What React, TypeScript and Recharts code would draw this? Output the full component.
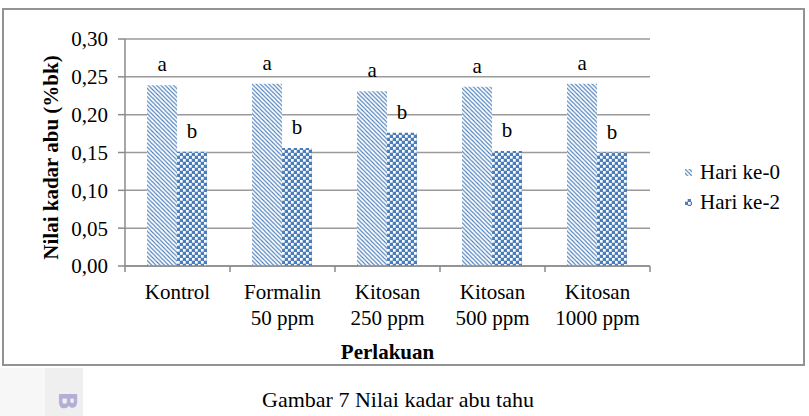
import { BarChart, Bar, XAxis, YAxis, CartesianGrid, Legend, LabelList } from "recharts";

const perlakuan = ["Kontrol", "Formalin\n50 ppm", "Kitosan\n250 ppm", "Kitosan\n500 ppm", "Kitosan\n1000 ppm"];
const hari0 = [0.239, 0.241, 0.231, 0.237, 0.241];
const hari2 = [0.151, 0.156, 0.176, 0.152, 0.15];
const notasi0 = ["a", "a", "a", "a", "a"];
const notasi2 = ["b", "b", "b", "b", "b"];
const seri = ["Hari ke-0", "Hari ke-2"];
const yTicks = [0, 0.05, 0.1, 0.15, 0.2, 0.25, 0.3];

const data = perlakuan.map((p, i) => ({
  perlakuan: p,
  hari0: hari0[i],
  hari2: hari2[i],
  notasi0: notasi0[i],
  notasi2: notasi2[i],
}));

const serif = '"Liberation Serif", "Times New Roman", serif';
const blue = "#4a7ebb";
const axisGray = "#8a8a8a";
const textStyle = { fontFamily: serif, fontSize: 21 };

// diagonal stripes + checkerboard fills, reused by bars and legend icons
const Patterns = ({ prefix }: { prefix: string }) => (
  <defs>
    <pattern id={`${prefix}-stripe`} patternUnits="userSpaceOnUse" width={4.2} height={4.2}>
      <rect width={4.2} height={4.2} fill="#fff" />
      <path d="M0,0 L4.2,4.2 M-1,3.2 L1,5.2 M3.2,-1 L5.2,1" stroke={blue} strokeWidth={1.1} />
    </pattern>
    <pattern id={`${prefix}-check`} patternUnits="userSpaceOnUse" width={6} height={6}>
      <rect width={6} height={6} fill={blue} />
      <rect x={0} y={0} width={2.7} height={2.7} fill="#fff" />
      <rect x={3} y={3} width={2.7} height={2.7} fill="#fff" />
    </pattern>
  </defs>
);

// category labels split on newline, with tick marks on the band edges
const CategoryTick = (props: any) => {
  const { x, y, payload, index, visibleTicksCount } = props;
  const half = payload?.offset ?? 52.5;
  const axisY = y - 6;
  const lines = String(payload.value).split("\n");
  return (
    <g>
      <line x1={x - half} x2={x - half} y1={axisY} y2={axisY + 6} stroke={axisGray} strokeWidth={1.5} />
      {index === visibleTicksCount - 1 && (
        <line x1={x + half} x2={x + half} y1={axisY} y2={axisY + 6} stroke={axisGray} strokeWidth={1.5} />
      )}
      <text x={x} y={axisY + 33} textAnchor="middle" style={textStyle} fill="#000">
        {lines.map((l, i) => (
          <tspan key={i} x={x} dy={i === 0 ? 0 : 26}>
            {l}
          </tspan>
        ))}
      </text>
    </g>
  );
};

const YTitle = (props: any) => {
  const { viewBox } = props;
  const x = viewBox.x + 38;
  const y = viewBox.y + viewBox.height / 2 + 5;
  return (
    <text
      x={x}
      y={y}
      transform={`rotate(-90, ${x}, ${y})`}
      textAnchor="middle"
      style={{ ...textStyle, fontWeight: "bold" }}
      fill="#000"
    >
      Nilai kadar abu (%bk)
    </text>
  );
};

const XTitle = (props: any) => {
  const { viewBox } = props;
  return (
    <text
      x={viewBox.x + viewBox.width / 2}
      y={viewBox.y + 93}
      textAnchor="middle"
      style={{ ...textStyle, fontWeight: "bold" }}
      fill="#000"
    >
      Perlakuan
    </text>
  );
};

const LegendContent = ({ payload }: any) => (
  <div style={{ ...textStyle, color: "#000" }}>
    {(payload || []).map((entry: any, i: number) => (
      <div key={i} style={{ display: "flex", alignItems: "center", height: 30 }}>
        <svg width={7} height={7} style={{ marginRight: 8 }}>
          <Patterns prefix={`lg${i}`} />
          <rect width={7} height={7} fill={`url(#lg${i}-${i === 0 ? "stripe" : "check"})`} />
        </svg>
        <span style={{ fontFamily: serif }}>{entry.value}</span>
      </div>
    ))}
  </div>
);

export default function App() {
  return (
    <div style={{ position: "absolute", left: 0, top: 0, width: 809, height: 416, background: "#fff", overflow: "hidden" }}>
      <div style={{ position: "absolute", left: 0, top: 368, width: 45, height: 48, background: "#f7f7f7" }} />
      <div style={{ position: "absolute", left: 45, top: 368, width: 38, height: 48, background: "#efefef" }} />
      <div
        style={{
          position: "absolute",
          left: 54,
          top: 388,
          width: 26,
          height: 26,
          textAlign: "center",
          fontFamily: '"DejaVu Sans", sans-serif',
          fontWeight: "bold",
          fontSize: 24,
          color: "#b3aed6",
          transform: "rotate(90deg)",
          lineHeight: "26px",
        }}
      >
        B
      </div>
      <div
        style={{
          position: "absolute",
          left: 2,
          top: 8,
          width: 803,
          height: 358,
          boxSizing: "border-box",
          border: "2px solid #939393",
        }}
      />
      <div style={{ position: "absolute", left: 0, top: 0 }}>
        <BarChart
          width={809}
          height={416}
          data={data}
          margin={{ top: 39, right: 159, bottom: 55, left: 20 }}
          barCategoryGap="21%"
          barGap={0}
        >
          <Patterns prefix="bar" />
          <CartesianGrid vertical={false} stroke="#9a9a9a" strokeWidth={1.5} />
          <XAxis
            dataKey="perlakuan"
            height={95}
            interval={0}
            tickLine={false}
            tickSize={6}
            tickMargin={0}
            axisLine={{ stroke: axisGray, strokeWidth: 1.5 }}
            tick={<CategoryTick />}
            label={<XTitle />}
          />
          <YAxis
            width={105}
            domain={[0, 0.3]}
            ticks={yTicks}
            interval={0}
            tickSize={7}
            tickMargin={10}
            tickFormatter={(v: number) => v.toFixed(2).replace(".", ",")}
            axisLine={{ stroke: axisGray, strokeWidth: 1.5 }}
            tickLine={{ stroke: axisGray, strokeWidth: 1.5 }}
            tick={{ style: textStyle, fill: "#000" }}
            label={<YTitle />}
          />
          <Legend
            layout="vertical"
            align="center"
            verticalAlign="middle"
            content={<LegendContent />}
            wrapperStyle={{ left: 685, top: 157, width: "auto", height: "auto" }}
          />
          <Bar dataKey="hari0" name={seri[0]} fill="url(#bar-stripe)" isAnimationActive={false}>
            <LabelList dataKey="notasi0" position="top" offset={14} fill="#000" style={textStyle} />
          </Bar>
          <Bar dataKey="hari2" name={seri[1]} fill="url(#bar-check)" isAnimationActive={false}>
            <LabelList dataKey="notasi2" position="top" offset={14} fill="#000" style={textStyle} />
          </Bar>
        </BarChart>
      </div>
      <div
        style={{
          position: "absolute",
          left: 0,
          top: 388,
          width: 796,
          textAlign: "center",
          fontFamily: serif,
          fontSize: 22,
          lineHeight: "24px",
          color: "#000",
        }}
      >
        Gambar 7 Nilai kadar abu tahu
      </div>
    </div>
  );
}
